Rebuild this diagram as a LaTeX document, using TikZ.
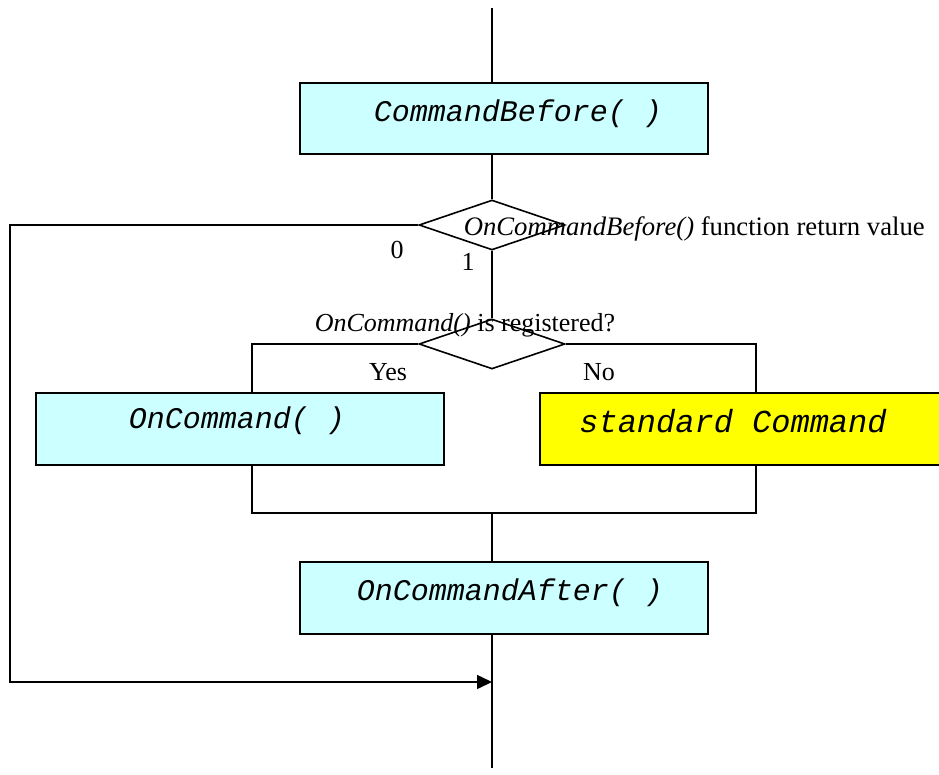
\documentclass[tikz,border=0pt]{standalone}
\usepackage{fontspec}
\setmainfont{Liberation Serif}
\setmonofont{Liberation Mono}
\usetikzlibrary{shapes.geometric,arrows.meta}
\definecolor{cyanbox}{HTML}{CCFFFF}
\definecolor{yelbox}{HTML}{FFFF00}
\begin{document}
\begin{tikzpicture}[x=1pt,y=-1pt,line width=1.6pt,
  box/.style={draw, fill=cyanbox, minimum width=408pt, minimum height=71pt, inner sep=0pt, anchor=north west},
  boxtext/.style={inner sep=0pt, font=\fontsize{30}{34}\selectfont\ttfamily\itshape},
  dia/.style={draw, diamond, minimum width=146pt, minimum height=50pt, inner sep=0pt},
  lbl/.style={inner sep=0pt, font=\fontsize{26}{30}\selectfont}
]
\useasboundingbox (0,0) rectangle (939,775);
% coordinates
\coordinate (top) at (492,8);
\coordinate (bot) at (492,768);
\coordinate (L1) at (10,225);
\coordinate (L2) at (10,682);
\coordinate (M) at (492,682);
\coordinate (yl) at (252,344);
\coordinate (yr) at (756,344);
\coordinate (jl) at (252,513);
\coordinate (jr) at (756,513);
\coordinate (jm) at (492,513);
% boxes
\node[box] (cb) at (299,82) {};
\node[boxtext] (cbt) at (518,114) {CommandBefore( )};
\node[dia] (d1) at (492,225) {};
\node[dia] (d2) at (492,344) {};
\node[box, minimum height=72pt] (oc) at (35,392) {};
\node[boxtext] (oct) at (237,421) {OnCommand( )};
\node[box, fill=yelbox, minimum width=404pt, minimum height=72pt] (sc) at (539,392) {};
\node[boxtext, font=\fontsize{32}{36}\selectfont\ttfamily\itshape] (sct) at (733,421) {standard Command};
\node[box, minimum height=72pt] (oca) at (299,561) {};
\node[boxtext] (ocat) at (510,593) {OnCommandAfter( )};
% connectors
\draw (top) -- (top |- cb.north);
\draw (top |- cb.south) -- (d1.north);
\draw (d1.south) -- (d2.north);
\draw (d2.west) -- (yl) -- (yl |- oc.north);
\draw (d2.east) -- (yr) -- (yr |- sc.north);
\draw (yl |- oc.south) -- (jl) -- (jr) -- (yr |- sc.south);
\draw (jm) -- (jm |- oca.north);
\draw (bot |- oca.south) -- (bot);
\draw[-{Triangle[length=15pt,width=14pt]}] (d1.west) -- (L1) -- (L2) -- (M);
% labels
\node[lbl, anchor=base west, font=\fontsize{26.7}{30}\selectfont] (q1) at (463,236) {\textit{OnCommandBefore()} function return value};
\node[lbl] (z0) at (397,250) {0};
\node[lbl] (z1) at (468,262) {1};
\node[lbl] (q2) at (465,325) {\textit{OnCommand()} is registered?};
\node[lbl] (yes) at (388,372) {Yes};
\node[lbl] (no) at (599,372) {No};
\end{tikzpicture}
\end{document}
